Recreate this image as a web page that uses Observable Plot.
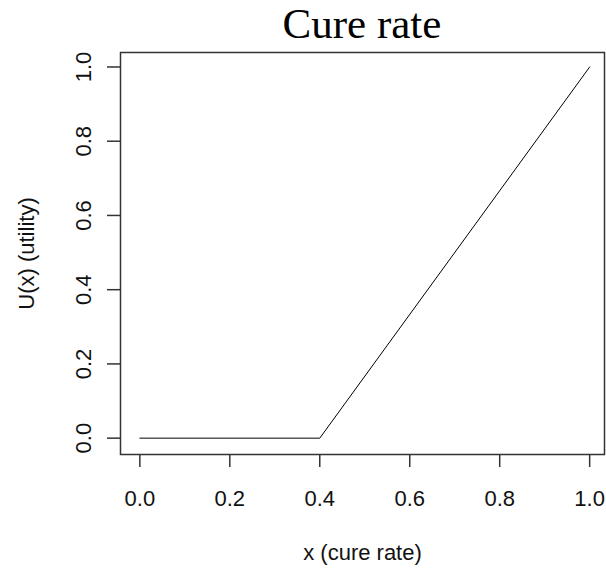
<!DOCTYPE html>
<html>
<head>
<meta charset="utf-8">
<script src="https://cdn.jsdelivr.net/npm/d3@7"></script>
<script src="https://cdn.jsdelivr.net/npm/@observablehq/plot@0.6"></script>
<style>
  html, body { margin: 0; padding: 0; background: #fff; }
  #wrap { position: relative; width: 606px; height: 568px; overflow: hidden; }
  #title { position: absolute; left: 120px; top: 0; width: 484px; height: 48px; line-height: 48px;
           text-align: center; font-family: "Liberation Serif", "DejaVu Serif", serif; font-size: 43px; color: #000; }
  #chart { position: absolute; left: 0; top: 48px; }
</style>
</head>
<body>
<div id="wrap">
  <div id="title">Cure rate</div>
  <div id="chart"></div>
</div>
<script>
// Data
const cureRate = [0, 0.4, 1.0];
const utility  = [0, 0.0, 1.0];
const xTicks = [0, 0.2, 0.4, 0.6, 0.8, 1.0];
const yTicks = [0, 0.2, 0.4, 0.6, 0.8, 1.0];
const xLabel = "x (cure rate)";
const yLabel = "U(x) (utility)";

const rows = cureRate.map((x, i) => ({x, u: utility[i]}));
const fmt = d3.format(".1f");
const titleH = 48;

const chart = Plot.plot({
  width: 606,
  height: 568 - titleH,
  marginTop: 52 - titleH,
  marginLeft: 120,
  marginRight: 2,
  marginBottom: 114,
  x: {domain: [-0.043, 1.033]},
  y: {domain: [-0.044, 1.039]},
  style: {fontFamily: "'Liberation Sans', Arial, sans-serif", fontSize: "22px", color: "#111", background: "white"},
  marks: [
    Plot.line(rows, {x: "x", y: "u", stroke: "black", strokeWidth: 1}),
    Plot.axisX(xTicks, {tickSize: 13, tickPadding: 23, tickFormat: fmt, stroke: "#333", strokeWidth: 1.5,
      fontSize: 22, fill: "#111",
      label: xLabel, labelAnchor: "center", labelOffset: 105, labelArrow: "none"}),
    Plot.axisY(yTicks, {anchor: "left", tickSize: 13, tickPadding: 17, tickRotate: -90, tickFormat: fmt,
      stroke: "#333", strokeWidth: 1.5, fontSize: 22, fill: "#111",
      label: yLabel, labelAnchor: "center", labelOffset: 102, labelArrow: "none"}),
    Plot.frame({stroke: "#333", strokeWidth: 1.5})
  ]
});
document.getElementById("chart").appendChild(chart);
</script>
</body>
</html>
